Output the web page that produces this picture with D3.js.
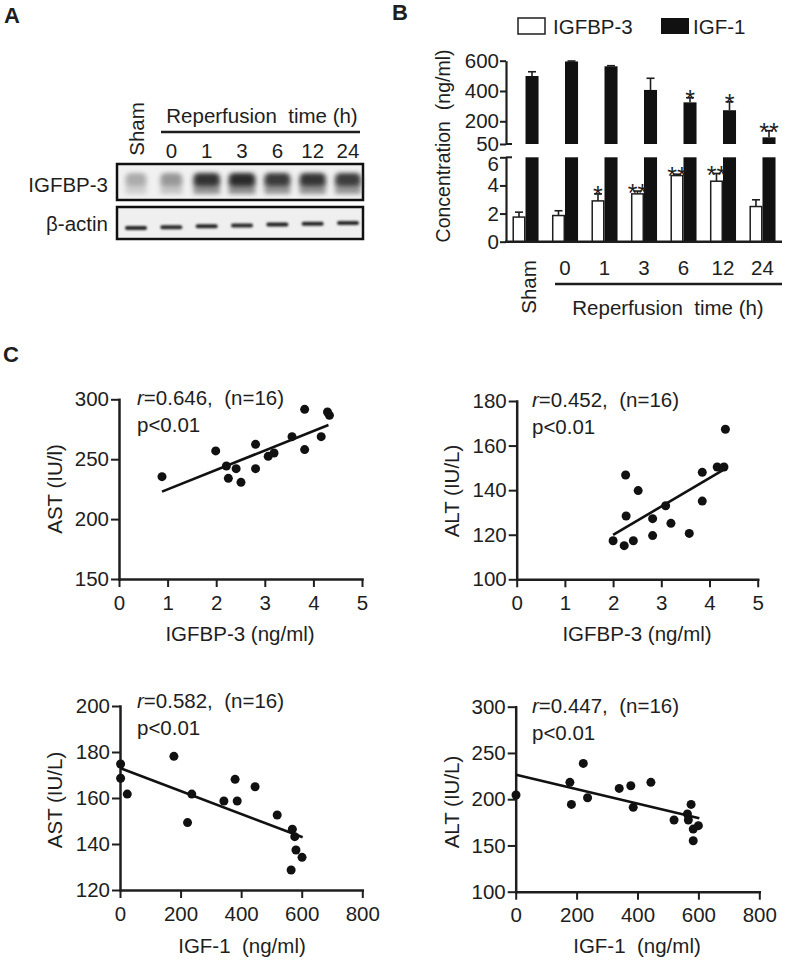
<!DOCTYPE html>
<html><head><meta charset="utf-8">
<script src="https://cdn.jsdelivr.net/npm/d3@7"></script>
<style>
body{margin:0;background:#fff}
svg text{font-family:"Liberation Sans",Arial,Helvetica,sans-serif;fill:#1e1e1e}
</style>
</head><body>
<svg id="c" width="787" height="962"></svg>
<script>
// ---------------- DATA ----------------
// Panel A: western blot lanes and relative band intensities
const lanes = ["Sham","0","1","3","6","12","24"];
const igfbp3BandIntensity = [0.30, 0.40, 0.93, 0.96, 0.88, 0.91, 0.86];
const actinBandIntensity  = [0.92, 0.90, 0.92, 0.90, 0.93, 0.92, 0.90];

// Panel B: concentrations (mean, error)
const groups = ["Sham","0","1","3","6","12","24"];
const igfbp3Mean = [1.75, 1.86, 2.90, 3.40, 4.70, 4.30, 2.50];
const igfbp3Err  = [0.35, 0.34, 0.50, 0.20, 0.10, 0.55, 0.48];
const igf1Mean   = [499, 595, 563, 407, 325, 273, 94];
const igf1Err    = [28, 3, 4, 77, 31, 56, 44];
const igfbp3Sig  = ["", "", "*", "**", "**", "**", ""];
const igf1Sig    = ["", "", "", "", "*", "*", "**"];
const topTicks = [50, 200, 400, 600];
const bottomTicks = [0, 2, 4, 6];

// Panel C: scatter data
const igfbp3_ast_x = [0.885,1.99,2.21,2.25,2.41,2.51,2.81,2.81,3.07,3.19,3.56,3.82,3.82,4.16,4.29,4.33];
const igfbp3_ast_y = [235.4,256.9,244.3,234.0,242.1,230.7,262.4,242.1,252.4,255.2,268.8,291.6,258.0,268.8,289.4,286.6];
const igfbp3_ast_fit = [[0.885,222.9],[4.31,278.6]];

const igfbp3_alt_x = [2.00,2.23,2.26,2.27,2.42,2.52,2.82,2.82,3.09,3.20,3.58,3.85,3.85,4.16,4.30,4.33];
const igfbp3_alt_y = [117.3,115.1,146.8,128.4,117.3,139.8,127.2,119.6,133.0,125.1,120.6,148.0,135.1,150.4,150.4,167.3];
const igfbp3_alt_fit = [[2.0,119.9],[4.34,149.8]];

const igf1_ast_x = [2,2,24,178,223,237,343,380,387,446,519,569,577,581,601,565];
const igf1_ast_y = [174.8,168.6,161.7,178.1,149.3,161.7,158.7,168.1,158.7,164.9,152.6,146.4,143.2,137.4,134.2,128.7];
const igf1_ast_fit = [[2,172.9],[603,142.9]];

const igf1_alt_x = [1,178,183,222,236,340,378,386,444,520,564,567,576,583,600,583];
const igf1_alt_y = [204.5,218.2,194.4,238.7,201.6,211.7,214.6,191.2,218.2,177.5,184.0,177.5,194.4,167.7,171.4,155.1];
const igf1_alt_fit = [[1,226.5],[603,179.3]];

const ticksIGFBP3 = [0,1,2,3,4,5];
const ticksIGF1 = [0,200,400,600,800];

// ---------------- DRAWING ----------------
const INK = "#1e1e1e";
const FS = 20.5;
const svg = d3.select("#c");
const defs = svg.append("defs");
const f1 = defs.append("filter").attr("id","blurBand").attr("x","-60%").attr("y","-100%").attr("width","220%").attr("height","300%");
f1.append("feGaussianBlur").attr("stdDeviation","2.6 2.2");
const f2 = defs.append("filter").attr("id","blurActin").attr("x","-60%").attr("y","-200%").attr("width","220%").attr("height","500%");
f2.append("feGaussianBlur").attr("stdDeviation","1.3 0.9");

function txt(x, y, s, opt = {}) {
  const t = svg.append("text").attr("x", x).attr("y", y)
    .attr("font-size", opt.size || FS)
    .attr("text-anchor", opt.anchor || "start")
    .text(s);
  if (opt.weight) t.attr("font-weight", opt.weight);
  if (opt.rotate) t.attr("x", null).attr("y", null).attr("transform", `translate(${x},${y}) rotate(-90)`);
  return t;
}

// panel letters
txt(4, 23, "A", {size: 22, weight: "bold"});
txt(392, 20, "B", {size: 22, weight: "bold"});
txt(3, 362, "C", {size: 22, weight: "bold"});

// ---------- Panel A ----------
const laneX = d3.scalePoint().domain(lanes).range([136, 348]);
txt(144, 129, "Sham", {anchor: "middle", rotate: true});
lanes.slice(1).forEach(l => txt(laneX(l), 158, l, {anchor: "middle"}));
svg.append("line").attr("x1", 161).attr("x2", 360).attr("y1", 132).attr("y2", 132)
  .attr("stroke", INK).attr("stroke-width", 2.5);
txt(262, 123, "Reperfusion\u00a0\u00a0time (h)", {anchor: "middle"});
txt(108, 192, "IGFBP-3", {anchor: "end"});
txt(108, 231, "\u03b2-actin", {anchor: "end"});

// blot 1
svg.append("rect").attr("x", 117).attr("y", 164).attr("width", 246).attr("height", 36)
  .attr("fill", "#f1f1f1").attr("stroke", "#111").attr("stroke-width", 2.5);
const gB = svg.append("g");
lanes.forEach((l, i) => {
  const v = igfbp3BandIntensity[i];
  const g = Math.round(230 - v * 195);
  const col = `rgb(${g},${g},${g})`;
  const w = 18 + v * 9;
  gB.append("rect").attr("x", laneX(l) - w / 2).attr("y", 182).attr("width", w).attr("height", 12)
    .attr("fill", col).attr("opacity", 0.5).attr("filter", "url(#blurBand)");
  gB.append("rect").attr("x", laneX(l) - w / 2).attr("y", 173).attr("width", w).attr("height", 13)
    .attr("rx", 5).attr("fill", col).attr("filter", "url(#blurBand)");
});

// blot 2
svg.append("rect").attr("x", 117).attr("y", 207).attr("width", 246).attr("height", 32)
  .attr("fill", "#efefef").attr("stroke", "#111").attr("stroke-width", 2.5);
lanes.forEach((l, i) => {
  const v = actinBandIntensity[i];
  const g = Math.round(235 - v * 215);
  svg.append("rect").attr("x", laneX(l) - 11).attr("y", 226 - i * 0.85).attr("width", 22).attr("height", 4)
    .attr("rx", 2).attr("fill", `rgb(${g},${g},${g})`).attr("filter", "url(#blurActin)");
});

// ---------- Panel B ----------
const xB = d3.scaleBand().domain(groups).range([506, 782]).paddingInner(0.34).paddingOuter(0.164);
const bw = xB.bandwidth() / 2;
const yTop = d3.scaleLinear().domain([50, 600]).range([144, 60.7]);
const yBot = d3.scaleLinear().domain([0, 6]).range([241.7, 157.3]);
const axX = 506;

// legend
svg.append("rect").attr("x", 518).attr("y", 18).attr("width", 27).attr("height", 16)
  .attr("fill", "#fff").attr("stroke", INK).attr("stroke-width", 1.5);
txt(553, 34, "IGFBP-3", {size: 20.5});
svg.append("rect").attr("x", 661).attr("y", 18).attr("width", 28).attr("height", 16).attr("fill", "#111");
txt(693, 34, "IGF-1", {size: 20.5});

// bars
const gBars = svg.append("g");
groups.forEach((g, i) => {
  const x0 = xB(g);
  const ev = igfbp3Mean[i] + igfbp3Err[i];
  gBars.append("line").attr("x1", x0 + bw / 2).attr("x2", x0 + bw / 2)
    .attr("y1", yBot(igfbp3Mean[i])).attr("y2", yBot(ev)).attr("stroke", INK).attr("stroke-width", 1.6);
  gBars.append("line").attr("x1", x0 + bw / 2 - 4).attr("x2", x0 + bw / 2 + 4)
    .attr("y1", yBot(ev)).attr("y2", yBot(ev)).attr("stroke", INK).attr("stroke-width", 1.6);
  gBars.append("rect").attr("x", x0 + 0.75).attr("y", yBot(igfbp3Mean[i]))
    .attr("width", bw - 1.5).attr("height", yBot(0) - yBot(igfbp3Mean[i]))
    .attr("fill", "#fff").attr("stroke", INK).attr("stroke-width", 1.5);
  if (igfbp3Sig[i]) {
    svg.append("text").attr("x", x0 + bw / 2).attr("y", yBot(ev) + 10.5)
      .attr("text-anchor", "middle").attr("font-size", 25).text(igfbp3Sig[i]);
  }
  const xb = x0 + bw;
  gBars.append("rect").attr("x", xb).attr("y", yBot(6)).attr("width", bw)
    .attr("height", yBot(0) - yBot(6)).attr("fill", "#111");
  const et = igf1Mean[i] + igf1Err[i];
  gBars.append("line").attr("x1", xb + bw / 2).attr("x2", xb + bw / 2)
    .attr("y1", yTop(igf1Mean[i])).attr("y2", yTop(et)).attr("stroke", INK).attr("stroke-width", 1.6);
  gBars.append("line").attr("x1", xb + bw / 2 - 4).attr("x2", xb + bw / 2 + 4)
    .attr("y1", yTop(et)).attr("y2", yTop(et)).attr("stroke", INK).attr("stroke-width", 1.6);
  gBars.append("rect").attr("x", xb).attr("y", yTop(igf1Mean[i])).attr("width", bw)
    .attr("height", yTop(50) - yTop(igf1Mean[i])).attr("fill", "#111");
  if (igf1Sig[i]) {
    svg.append("text").attr("x", xb + bw / 2).attr("y", yTop(et) + 10.5)
      .attr("text-anchor", "middle").attr("font-size", 25).text(igf1Sig[i]);
  }
});

function styleAxis(g, w) {
  g.select(".domain").attr("stroke", INK).attr("stroke-width", w || 2.5);
  g.selectAll(".tick line").attr("stroke", INK).attr("stroke-width", 2);
  g.selectAll(".tick text").attr("fill", INK).attr("font-size", FS)
    .attr("font-family", '"Liberation Sans",Arial,sans-serif');
}
const gyt = svg.append("g").attr("transform", `translate(${axX},0)`)
  .call(d3.axisLeft(yTop).tickValues(topTicks).tickSize(6).tickSizeOuter(0).tickPadding(1).tickFormat(d3.format("d")));
styleAxis(gyt, 2.2);
const gyb = svg.append("g").attr("transform", `translate(${axX},0)`)
  .call(d3.axisLeft(yBot).tickValues(bottomTicks).tickSize(6).tickSizeOuter(0).tickPadding(1).tickFormat(d3.format("d")));
styleAxis(gyb, 2.2);
gyb.selectAll(".tick text").filter(d => d === 6).attr("dy", "0.62em");
// break caps
svg.append("line").attr("x1", axX).attr("x2", axX + 6).attr("y1", yTop(50)).attr("y2", yTop(50)).attr("stroke", INK).attr("stroke-width", 2);
svg.append("line").attr("x1", axX).attr("x2", axX + 6).attr("y1", yBot(6)).attr("y2", yBot(6)).attr("stroke", INK).attr("stroke-width", 2);
// baseline
svg.append("line").attr("x1", axX - 1).attr("x2", 782).attr("y1", yBot(0)).attr("y2", yBot(0))
  .attr("stroke", INK).attr("stroke-width", 2.4);

txt(450, 146, "Concentration\u00a0\u00a0(ng/ml)", {anchor: "middle", rotate: true, size: 19.5});
txt(536, 287, "Sham", {anchor: "middle", rotate: true});
groups.slice(1).forEach(g => txt(xB(g) + xB.bandwidth() / 2, 275, g, {anchor: "middle"}));
svg.append("line").attr("x1", 555).attr("x2", 782).attr("y1", 284).attr("y2", 284)
  .attr("stroke", INK).attr("stroke-width", 2.5);
txt(668, 315, "Reperfusion\u00a0\u00a0time (h)", {anchor: "middle"});

// ---------- Panel C ----------
function scatter(o) {
  const x = d3.scaleLinear().domain(o.xDomain).range(o.xRange);
  const y = d3.scaleLinear().domain(o.yDomain).range(o.yRange);
  const gx = svg.append("g").attr("transform", `translate(0,${o.yRange[0]})`)
    .call(d3.axisBottom(x).tickValues(o.xTicks).tickSize(8).tickSizeOuter(0).tickPadding(8).tickFormat(d3.format("d")));
  styleAxis(gx);
  const gy = svg.append("g").attr("transform", `translate(${o.xRange[0]},0)`)
    .call(d3.axisLeft(y).tickValues(o.yTicks).tickSize(8).tickSizeOuter(0).tickPadding(2).tickFormat(d3.format("d")));
  styleAxis(gy);
  gx.select(".domain").attr("stroke-linecap", "square");
  gy.select(".domain").attr("stroke-linecap", "square");
  svg.append("line").attr("x1", x(o.fit[0][0])).attr("y1", y(o.fit[0][1]))
    .attr("x2", x(o.fit[1][0])).attr("y2", y(o.fit[1][1]))
    .attr("stroke", "#111").attr("stroke-width", 2.6);
  svg.append("g").selectAll("circle").data(o.xs.map((v, i) => [v, o.ys[i]])).join("circle")
    .attr("cx", d => x(d[0])).attr("cy", d => y(d[1])).attr("r", 4.5).attr("fill", "#111");
  const t = svg.append("text").attr("x", o.ann[0]).attr("y", o.ann[1]).attr("font-size", FS);
  t.append("tspan").attr("font-style", "italic").text("r");
  t.append("tspan").text(`=${o.r},\u00a0\u00a0(n=16)`);
  txt(o.ann[0], o.ann[1] + 27, "p<0.01");
  txt(o.yTitle[0], o.yTitle[1], o.yLabel, {anchor: "middle", rotate: true});
  txt(o.xTitle[0], o.xTitle[1], o.xLabel, {anchor: "middle"});
}

scatter({xDomain: [0, 5], xRange: [119, 362], yDomain: [150, 300], yRange: [579, 399.3],
  xTicks: ticksIGFBP3, yTicks: [150, 200, 250, 300], xs: igfbp3_ast_x, ys: igfbp3_ast_y, fit: igfbp3_ast_fit,
  r: "0.646", ann: [137, 405], yLabel: "AST (IU/l)", yTitle: [62, 489], xLabel: "IGFBP-3 (ng/ml)", xTitle: [240, 641]});

scatter({xDomain: [0, 5], xRange: [516.7, 757.7], yDomain: [100, 180], yRange: [579.3, 401],
  xTicks: ticksIGFBP3, yTicks: [100, 120, 140, 160, 180], xs: igfbp3_alt_x, ys: igfbp3_alt_y, fit: igfbp3_alt_fit,
  r: "0.452", ann: [532, 407], yLabel: "ALT (IU/L)", yTitle: [459, 491], xLabel: "IGFBP-3 (ng/ml)", xTitle: [637, 641]});

scatter({xDomain: [0, 800], xRange: [120, 362.3], yDomain: [120, 200], yRange: [890, 706],
  xTicks: ticksIGF1, yTicks: [120, 140, 160, 180, 200], xs: igf1_ast_x, ys: igf1_ast_y, fit: igf1_ast_fit,
  r: "0.582", ann: [137, 708], yLabel: "AST (IU/L)", yTitle: [62, 800], xLabel: "IGF-1\u00a0\u00a0(ng/ml)", xTitle: [242, 953]});

scatter({xDomain: [0, 800], xRange: [515.7, 759.3], yDomain: [100, 300], yRange: [891.7, 706.7],
  xTicks: ticksIGF1, yTicks: [100, 150, 200, 250, 300], xs: igf1_alt_x, ys: igf1_alt_y, fit: igf1_alt_fit,
  r: "0.447", ann: [532, 713], yLabel: "ALT (IU/L)", yTitle: [459, 802], xLabel: "IGF-1\u00a0\u00a0(ng/ml)", xTitle: [637, 953]});
</script>
</body></html>
